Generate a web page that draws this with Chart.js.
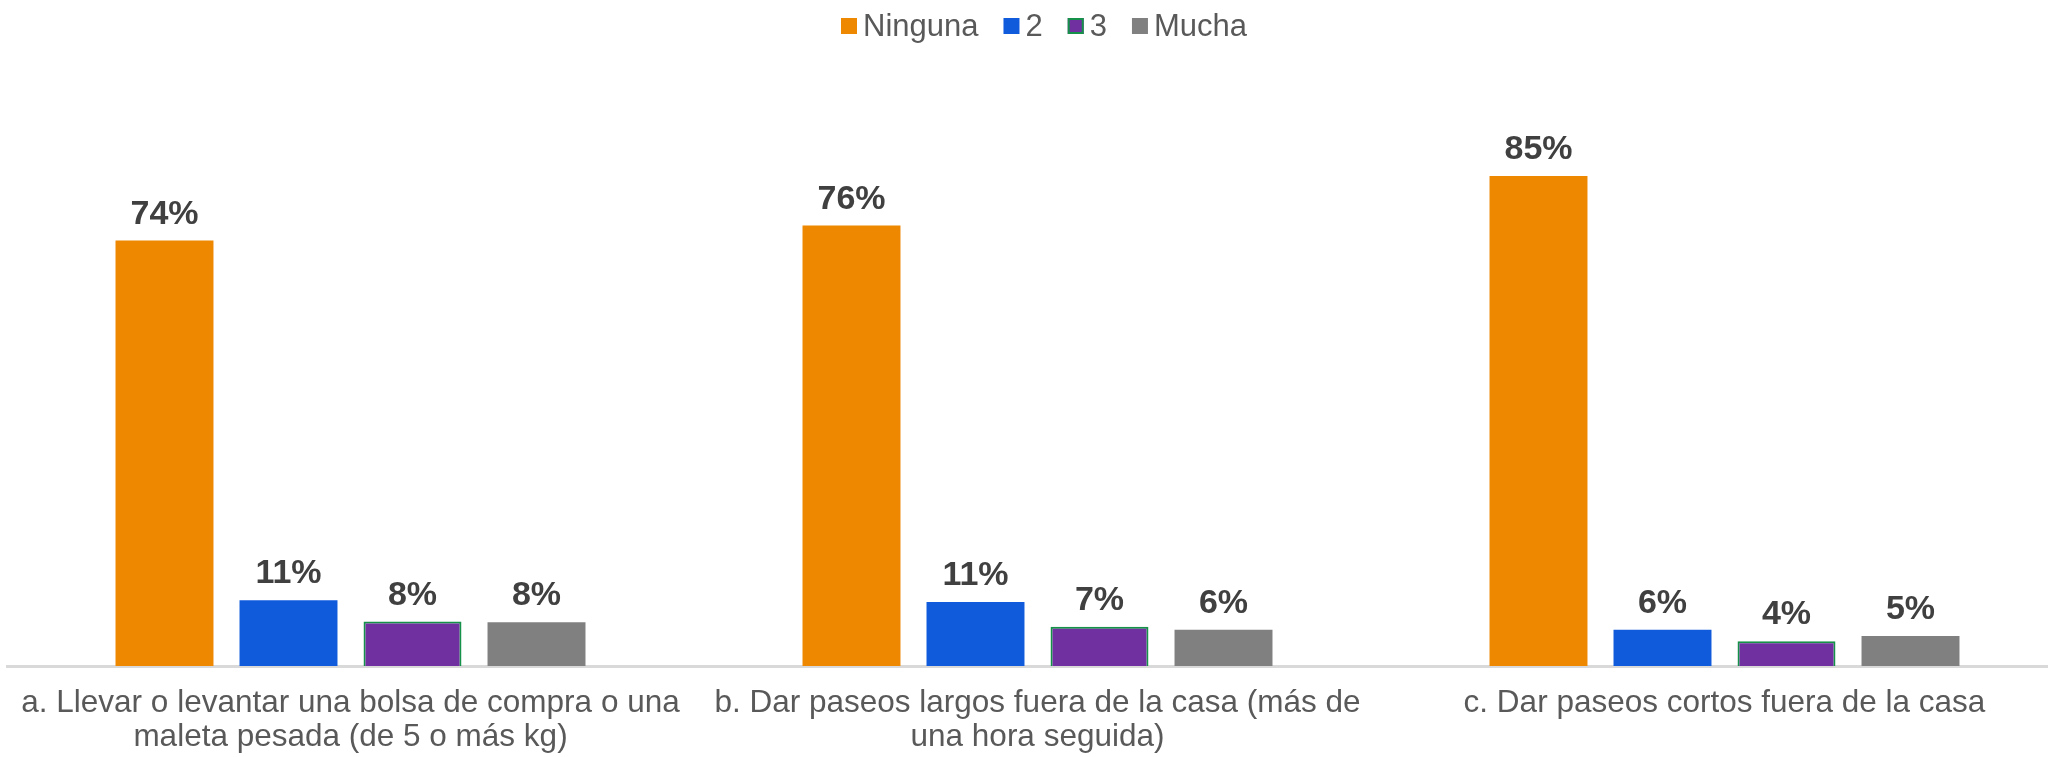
<!DOCTYPE html>
<html>
<head>
<meta charset="utf-8">
<script src="https://cdn.jsdelivr.net/npm/chart.js@4"></script>
<style>
  html, body { margin: 0; padding: 0; background: #fff; overflow: hidden; }
  #wrap { position: relative; width: 2075px; height: 757px; }
</style>
</head>
<body>
<div id="wrap"><canvas id="myChart"></canvas></div>
<script>
const categories = [
    ['a. Llevar o levantar una bolsa de compra o una', 'maleta pesada (de 5 o más kg)'],
    ['b. Dar paseos largos fuera de la casa (más de', 'una hora seguida)'],
    'c. Dar paseos cortos fuera de la casa',
];
const seriesNames = ['Ninguna', '2', '3', 'Mucha'];
const ninguna = [73.8, 76.4, 85.0];
const dos = [11.4, 11.1, 6.3];
const tres = [7.7, 6.8, 4.3];
const mucha = [7.6, 6.3, 5.2];

const FONT = '"Liberation Sans", Arial, sans-serif';

// % value above every bar
const valueLabels = {
    id: 'valueLabels',
    afterDatasetsDraw(chart) {
        const { ctx } = chart;
        ctx.save();
        ctx.font = 'bold 34px ' + FONT;
        ctx.fillStyle = '#404040';
        ctx.textAlign = 'center';
        ctx.textBaseline = 'alphabetic';
        chart.data.datasets.forEach((ds, i) => {
            chart.getDatasetMeta(i).data.forEach((bar, j) => {
                ctx.fillText(Math.round(ds.data[j]) + '%', bar.x, bar.y - 17);
            });
        });
        ctx.restore();
    },
};

// legend drawn by hand so the box/text spacing matches the original
const topLegend = {
    id: 'topLegend',
    afterDraw(chart) {
        const { ctx } = chart;
        const box = 16, gapText = 6, gapItem = 25;
        ctx.save();
        ctx.font = '31px ' + FONT;
        const items = chart.data.datasets.map((ds) => ({ ds, w: ctx.measureText(ds.label).width }));
        let total = 0;
        items.forEach((it, i) => {
            total += box + gapText + it.w + (i < items.length - 1 ? gapItem : 0);
        });
        let x = 1044 - total / 2;
        const cy = 26;
        items.forEach((it) => {
            ctx.fillStyle = it.ds.backgroundColor;
            ctx.fillRect(x, cy - box / 2, box, box);
            if (it.ds.borderWidth) {
                ctx.strokeStyle = it.ds.borderColor;
                ctx.lineWidth = 2;
                ctx.strokeRect(x + 1, cy - box / 2 + 1, box - 2, box - 2);
            }
            x += box + gapText;
            ctx.fillStyle = '#595959';
            ctx.textBaseline = 'middle';
            ctx.fillText(it.ds.label, x, cy + 1);
            x += it.w + gapItem;
        });
        ctx.restore();
    },
};

const ctx = document.getElementById('myChart');

new Chart(ctx, {
    type: 'bar',
    data: {
        labels: categories,
        datasets: [
            { label: seriesNames[0], data: ninguna, backgroundColor: '#ee8800', borderWidth: 0 },
            { label: seriesNames[1], data: dos, backgroundColor: '#105bdc', borderWidth: 0 },
            { label: seriesNames[2], data: tres, backgroundColor: '#7030a0', borderColor: '#16914a', borderWidth: 2 },
            { label: seriesNames[3], data: mucha, backgroundColor: '#808080', borderWidth: 0 },
        ],
    },
    options: {
        responsive: true,
        maintainAspectRatio: false,
        animation: false,
        categoryPercentage: 0.722,
        barPercentage: 0.79,
        layout: {
            padding: { left: 7, right: 7, top: 89.5, bottom: 0 },
        },
        scales: {
            y: {
                display: false,
                min: 0,
                max: 100,
            },
            x: {
                grid: { display: false },
                border: { display: true, color: '#d9d9d9', width: 3 },
                afterFit(scale) {
                    scale.height = 91;
                },
                ticks: {
                    color: '#595959',
                    autoSkip: false,
                    maxRotation: 0,
                    padding: 12,
                    font: { family: FONT, size: 31.5, lineHeight: 1.08 },
                },
            },
        },
        plugins: {
            tooltip: { enabled: false },
            legend: { display: false },
        },
    },
    plugins: [valueLabels, topLegend],
});
</script>
</body>
</html>
